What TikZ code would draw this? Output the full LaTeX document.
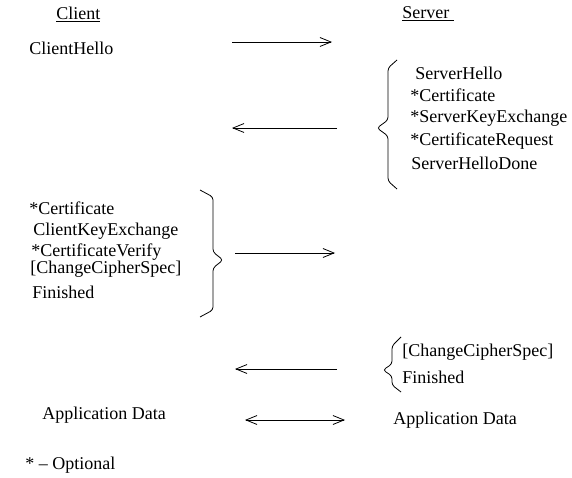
\documentclass[tikz,border=0pt]{standalone}
\usepackage{fontspec}
\setmainfont{Liberation Serif}
\usetikzlibrary{arrows.meta}

\tikzset{
  msg/.style={-{Straight Barb[length=11pt,width=9pt]}},
  dmsg/.style={{Straight Barb[length=11pt,width=9pt]}-{Straight Barb[length=11pt,width=9pt]}},
  txt/.style={anchor=west, inner sep=0pt, font=\fontsize{18}{22}\selectfont},
  brace/.style={rounded corners=3pt},
}

\begin{document}
\begin{tikzpicture}[x=1pt,y=-1pt,line width=0.8pt]
  \useasboundingbox (0,0) rectangle (572,478);

  % Headers
  \node[txt] (client) at (56,14) {\underline{Client}};
  \node[txt] (server) at (402,14) {\underline{Server~}};

  % ClientHello
  \node[txt] (chello) at (29,48) {ClientHello};
  \coordinate (m1s) at (232,42);
  \coordinate (m1e) at (332,42);
  \draw[msg] (m1s) -- (m1e);

  % Server reply
  \node[txt] (shello) at (415,73) {ServerHello};
  \node[txt] (scert) at (410,95) {*Certificate};
  \node[txt] (skex) at (410,118) {*ServerKeyExchange};
  \node[txt] (creq) at (410,141) {*CertificateRequest};
  \node[txt] (sdone) at (411,163) {ServerHelloDone};
  \draw[brace] (397,60) -- (388,68) -- (388,120) -- (377,128) -- (388,136) -- (388,181) -- (397,189);
  \coordinate (m2s) at (337,128);
  \coordinate (m2e) at (232,128);
  \draw[msg] (m2s) -- (m2e);

  % Client reply
  \node[txt] (ccert) at (29,208) {*Certificate};
  \node[txt] (ckex) at (33,231) {ClientKeyExchange};
  \node[txt] (cver) at (31,252) {*CertificateVerify};
  \node[txt] (cccs) at (30,269) {[ChangeCipherSpec]};
  \node[txt] (cfin) at (32,292) {Finished};
  \draw[brace] (200,190) -- (213,197) -- (213,252) -- (223,260) -- (213,268) -- (213,310) -- (200,317);
  \coordinate (m3s) at (235,253);
  \coordinate (m3e) at (335,253);
  \draw[msg] (m3s) -- (m3e);

  % Server finish
  \node[txt] (sccs) at (402,352) {[ChangeCipherSpec]};
  \node[txt] (sfin) at (402,377) {Finished};
  \draw[brace] (401,337) -- (392,346) -- (392,364) -- (383,370) -- (392,376) -- (392,385) -- (401,392);
  \coordinate (m4s) at (337,369);
  \coordinate (m4e) at (235,369);
  \draw[msg] (m4s) -- (m4e);

  % Application data
  \node[txt] (cdata) at (42,415) {Application Data};
  \node[txt] (sdata) at (393,420) {Application Data};
  \coordinate (m5s) at (245,420);
  \coordinate (m5e) at (345,420);
  \draw[dmsg] (m5s) -- (m5e);

  % Legend
  \node[txt] (legend) at (25,465) {* -- Optional};

\end{tikzpicture}
\end{document}
